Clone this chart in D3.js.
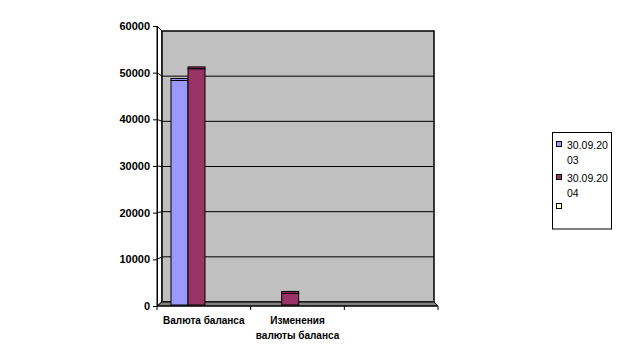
<!DOCTYPE html>
<html>
<head>
<meta charset="utf-8">
<script src="https://cdn.jsdelivr.net/npm/d3@7"></script>
<style>
  body { margin: 0; background: #fff; }
  svg { display: block; }
</style>
</head>
<body>
<div id="chart"></div>
<script>
const categories = ["Валюта баланса", "Изменения валюты баланса", ""];
const categoryLines = [["Валюта баланса"], ["Изменения", "валюты баланса"], [""]];
const seriesNames = ["30.09.2003", "30.09.2004", ""];
const values2003 = [48500, 0, null];
const values2004 = [51000, 2500, null];
const values3 = [null, null, null];
const yTicks = [0, 10000, 20000, 30000, 40000, 50000, 60000];

const colors = ["#9999ff", "#993366", "#ffffcc"];
const allValues = [values2003, values2004, values3];

const width = 622, height = 364;
const svg = d3.select('#chart')
    .append('svg')
    .attr('width', width)
    .attr('height', height);

// front plane / back wall / bars plane
const yFront = d3.scaleLinear().domain([0, 60000]).range([306, 26]);
const yBack = d3.scaleLinear().domain([0, 60000]).range([302, 31]);
const yBar = d3.scaleLinear().domain([0, 60000]).range([305, 27.25]);

const x0 = d3.scaleBand().domain(d3.range(categories.length)).range([157, 438]);
const x1 = d3.scaleBand().domain(d3.range(seriesNames.length)).range([14, 65]);

const wallL = 162, wallR = 434;

// side wall
svg.append('polygon')
    .attr('points', [[157, yFront(60000)], [wallL, yBack(60000)], [wallL, yBack(0)], [157, yFront(0)]].join(' '))
    .attr('fill', '#fff')
    .attr('stroke', '#000');

// back wall
svg.append('rect')
    .attr('x', wallL)
    .attr('y', yBack(60000))
    .attr('width', wallR - wallL)
    .attr('height', yBack(0) - yBack(60000))
    .attr('fill', '#c0c0c0')
    .attr('stroke', '#000')
    .attr('stroke-width', 1.5);

// gridlines
yTicks.filter(d => d > 0 && d < 60000).forEach(function (v) {
    svg.append('line')
        .attr('x1', wallL).attr('x2', wallR)
        .attr('y1', yBack(v)).attr('y2', yBack(v))
        .attr('stroke', '#000');
    svg.append('line')
        .attr('x1', 157).attr('x2', wallL)
        .attr('y1', yFront(v)).attr('y2', yBack(v))
        .attr('stroke', '#000');
});

// floor
svg.append('polygon')
    .attr('points', [[wallL, yBack(0)], [wallR, yBack(0)], [438, yFront(0)], [157, yFront(0)]].join(' '))
    .attr('fill', '#808080')
    .attr('stroke', '#000');

// bars (thin top face above the front face)
const d = 2;
allValues.forEach(function (vals, s) {
    vals.forEach(function (v, i) {
        if (v == null || v <= 0) return;
        const x = x0(i) + x1(s);
        const w = x1.bandwidth();
        const y = yBar(v);
        svg.append('rect')
            .attr('x', x)
            .attr('y', y - d)
            .attr('width', w)
            .attr('height', d)
            .attr('fill', colors[s])
            .attr('stroke', '#000');
        svg.append('rect')
            .attr('x', x)
            .attr('y', y)
            .attr('width', w)
            .attr('height', yBar(0) - y)
            .attr('fill', colors[s])
            .attr('stroke', '#000');
    });
});

// y axis
svg.append('g')
    .attr('transform', 'translate(157,0)')
    .call(d3.axisLeft(yFront).tickValues(yTicks).tickFormat(d3.format('d')).tickSize(4).tickSizeOuter(0).tickPadding(3))
    .call(g => g.select('.domain').attr('stroke', '#000'))
    .call(g => g.selectAll('text')
        .attr('font-family', 'Liberation Sans, Arial, sans-serif')
        .attr('font-size', 11)
        .attr('font-weight', 'bold')
        .attr('fill', '#000'));

// x axis
svg.append('line')
    .attr('x1', 157).attr('x2', 438)
    .attr('y1', yFront(0)).attr('y2', yFront(0))
    .attr('stroke', '#000');
categories.forEach(function (c, i) {
    svg.append('line')
        .attr('x1', x0(i)).attr('x2', x0(i))
        .attr('y1', yFront(0)).attr('y2', yFront(0) + 4)
        .attr('stroke', '#000');
});
svg.append('line')
    .attr('x1', 438).attr('x2', 438)
    .attr('y1', yFront(0)).attr('y2', yFront(0) + 4)
    .attr('stroke', '#000');

categoryLines.forEach(function (lines, i) {
    lines.forEach(function (t, k) {
        svg.append('text')
            .attr('x', x0(i) + x0.bandwidth() / 2)
            .attr('y', 324 + k * 15)
            .attr('text-anchor', 'middle')
            .attr('font-family', 'Liberation Sans, Arial, sans-serif')
            .attr('font-size', 10)
            .attr('font-weight', 'bold')
            .text(t);
    });
});

// legend
svg.append('rect')
    .attr('x', 552.5).attr('y', 132.5)
    .attr('width', 59).attr('height', 96.5)
    .attr('fill', '#fff')
    .attr('stroke', '#000');

const legendY = [141, 174, 203];
seriesNames.forEach(function (name, s) {
    svg.append('rect')
        .attr('x', 556.5).attr('y', legendY[s] + 0.5)
        .attr('width', 5).attr('height', 5)
        .attr('fill', colors[s])
        .attr('stroke', '#000');
    // wrap text to legend width
    const lines = [];
    let cur = '';
    const probe = svg.append('text')
        .attr('font-family', 'Liberation Sans, Arial, sans-serif')
        .attr('font-size', 10.5);
    for (const ch of name) {
        probe.text(cur + ch);
        if (probe.node().getComputedTextLength() > 42 && cur) {
            lines.push(cur);
            cur = ch;
        } else {
            cur += ch;
        }
    }
    probe.remove();
    if (cur) lines.push(cur);
    lines.forEach(function (t, k) {
        svg.append('text')
            .attr('x', 567)
            .attr('y', legendY[s] + 7.5 + k * 15.5)
            .attr('font-family', 'Liberation Sans, Arial, sans-serif')
            .attr('font-size', 10.5)
            .attr('fill', '#000')
            .text(t);
    });
});
</script>
</body>
</html>
